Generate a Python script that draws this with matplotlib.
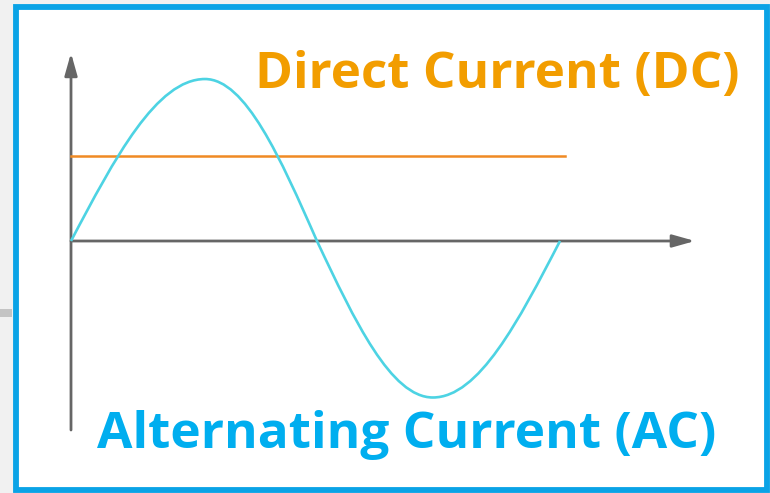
import numpy as np
import matplotlib
matplotlib.use("Agg")
import matplotlib.pyplot as plt
from matplotlib.patches import Rectangle, PathPatch
from matplotlib.path import Path

# ---- data ----
# AC wave key points: start, peak, zero, trough, end
ac_t = [0.000, 0.274, 0.503, 0.740, 1.000]
ac_v = [0.000, 1.006, 0.000, -0.972, 0.000]
dc_level = 0.53             # constant DC value
dc_extent = 1.01            # DC line length (in cycle units)
title_dc = "Direct Current (DC)"
title_ac = "Alternating Current (AC)"

W, H = 770, 493
fig = plt.figure(figsize=(W / 100, H / 100), dpi=100)
fig.patch.set_facecolor("#f1f1f1")

panel = Rectangle((15.5 / W, 1 - 490 / H), (767 - 15.5) / W, (490 - 7) / H,
                  transform=fig.transFigure, facecolor="white",
                  edgecolor="#0aa3e6", linewidth=4.2, zorder=-5)
fig.patches.append(panel)
fig.patches.append(Rectangle((0, 1 - 317 / H), 12 / W, 8 / H, transform=fig.transFigure,
                             facecolor="#c4c4c4", edgecolor="none", zorder=-5))

x0, x1 = 71, 560
y_top, y_bot = 80, 402
ax = fig.add_axes([x0 / W, 1 - y_bot / H, (x1 - x0) / W, (y_bot - y_top) / H])
ax.set_zorder(2)
ax.set_xlim(0, 1)
ax.set_ylim(-1, 1)
ax.axis("off")
ax.patch.set_alpha(0)

# sine-like cubic Bezier quarters between the key points
verts = [(ac_t[0], ac_v[0])]
codes = [Path.MOVETO]
for i in range(len(ac_t) - 1):
    ta, va, tb, vb = ac_t[i], ac_v[i], ac_t[i + 1], ac_v[i + 1]
    L = tb - ta
    if abs(va) < abs(vb):      # rising from zero to an extremum
        c1 = (ta + 0.3265 * L, 0.5128 * vb)
        c2 = (ta + 0.6397 * L, vb)
    else:                      # falling from an extremum to zero
        c1 = (ta + 0.3603 * L, va)
        c2 = (ta + 0.6735 * L, 0.5128 * va)
    verts += [c1, c2, (tb, vb)]
    codes += [Path.CURVE4] * 3
ax.add_patch(PathPatch(Path(verts, codes), facecolor="none", edgecolor="#4dd3e3",
                       lw=1.9, clip_on=False, zorder=3))

ax.plot([0, dc_extent], [dc_level, dc_level], color="#f08a24", lw=1.8,
        clip_on=False, zorder=2)

axis_col = "#666666"
ax.annotate("", xy=(1.276, 0), xytext=(0, 0),
            arrowprops=dict(arrowstyle="-|>,head_length=1.35,head_width=0.38",
                            mutation_scale=10, color=axis_col, lw=2.0,
                            shrinkA=0, shrinkB=0),
            annotation_clip=False, zorder=1)
ax.annotate("", xy=(0, 1.168), xytext=(0, -1.174),
            arrowprops=dict(arrowstyle="-|>,head_length=1.35,head_width=0.38",
                            mutation_scale=10, color=axis_col, lw=2.0,
                            shrinkA=0, shrinkB=0),
            annotation_clip=False, zorder=1)

fam = "Open Sans"
t1 = fig.text(255 / W, 1 - 88 / H, title_dc, color="#f29d00", fontsize=36,
              fontweight="bold", family=fam, ha="left", va="baseline", zorder=3)
t2 = fig.text(97 / W, 1 - 448 / H, title_ac, color="#00aeef", fontsize=36,
              fontweight="bold", family=fam, ha="left", va="baseline", zorder=3)

r = fig.canvas.get_renderer()
for txt, target in ((t1, 485), (t2, 621)):
    w = txt.get_window_extent(r).width
    txt.set_fontsize(txt.get_fontsize() * target / w)

fig.savefig("out.png", dpi=100, facecolor=fig.get_facecolor())
